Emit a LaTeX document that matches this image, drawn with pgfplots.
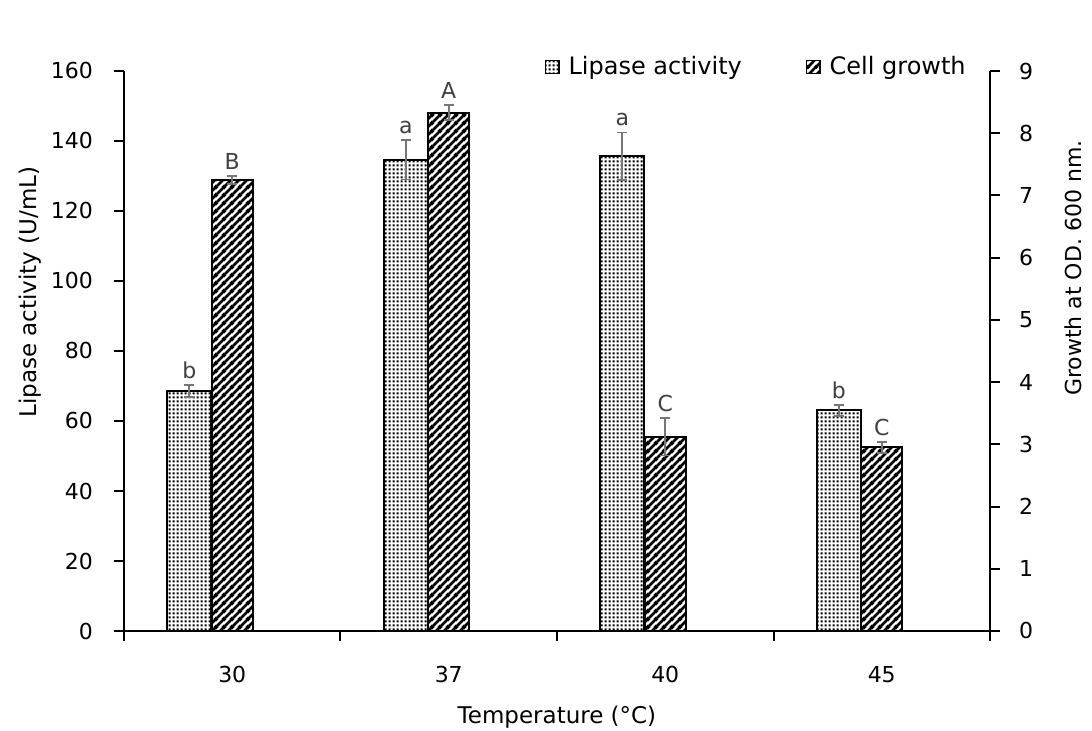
\documentclass[border=0pt]{standalone}
\usepackage{fontspec}
\setmainfont{DejaVu Sans}
\usepackage{pgfplots}
\usepackage{pgfplotstable}
\pgfplotsset{compat=1.18}
\usetikzlibrary{patterns.meta}

\tikzdeclarepattern{
  name=mydots,
  bounding box={(0pt,0pt) and (2pt,2pt)},
  tile size={(2pt,2pt)},
  code={\fill (0.4pt,0.4pt) rectangle (1.6pt,1.6pt);}
}
\tikzdeclarepattern{
  name=myhatch,
  bounding box={(0pt,0pt) and (4pt,4pt)},
  tile size={(4pt,4pt)},
  code={
    \draw[line width=1.4pt] (-1pt,-1pt) -- (5pt,5pt);
    \draw[line width=1.4pt] (-3pt,1pt) -- (3pt,7pt);
    \draw[line width=1.4pt] (1pt,-3pt) -- (7pt,3pt);
  }
}

\definecolor{errgray}{RGB}{118,118,118}
\definecolor{lblgray}{RGB}{64,64,64}

\pgfplotstableread{
x y e lab
0 68.5 1.7 b
1 134.6 5.6 a
2 135.6 6.8 a
3 63.0 1.5 b
}\lipase

\pgfplotstableread{
x y e lab
0 7.25 0.06 B
1 8.33 0.12 A
2 3.12 0.30 C
3 2.95 0.09 C
}\growth

\pgfplotsset{
  common/.style={
    scale only axis, width=433pt, height=280pt,
    xmin=-0.5, xmax=3.5,
    tick align=outside,
    major tick length=5pt,
    axis line style={line width=1pt},
    tick style={line width=1pt, black},
    ticklabel style={font=\fontsize{11}{13}\selectfont},
    /pgf/number format/assume math mode=true,
    clip=false,
  },
  errs/.style={
    error bars/.cd, y dir=both, y explicit,
    error bar style={draw=errgray, line width=0.9pt},
    error mark options={rotate=90, mark size=2.6pt, draw=errgray, line width=0.9pt},
    /pgfplots/.cd,
  },
  lbls/.style={
    only marks, mark=*, mark size=0pt, draw=none, fill=none,
    nodes near coords, point meta=explicit symbolic,
    nodes near coords style={anchor=south, text=lblgray, inner sep=3pt,
      font=\fontsize{11}{13}\selectfont},
  },
}

\begin{document}
\begin{tikzpicture}
\path[use as bounding box] (-62pt,-50pt) rectangle (484pt,315.5pt);

\begin{axis}[
  common,
  ymin=0, ymax=160,
  axis x line*=bottom, axis y line*=left,
  ytick={0,20,...,160},
  xtick={-0.5,0.5,1.5,2.5,3.5},
  xticklabels={30,37,40,45},
  x tick label as interval,
  xticklabel style={yshift=-9pt},
  yticklabel style={xshift=-7pt},
  every axis y label/.style={at={(axis description cs:-0.1085,0.605)}, rotate=90, anchor=center},
  ylabel={Lipase activity (U/mL)},
  every axis x label/.style={at={(axis description cs:0.5,-0.1536)}, anchor=center},
  xlabel={Temperature (°C)},
  label style={font=\fontsize{11.5}{13}\selectfont},
]
\addplot[ybar, bar width=22pt, bar shift=-21.5pt, draw=black, line width=1pt,
  pattern=mydots] table[x=x, y=y] {\lipase};
\addplot[draw=none, mark=none, errs] table[x expr=\thisrow{x}-0.1986, y=y, y error=e] {\lipase};
\addplot[lbls] table[x expr=\thisrow{x}-0.1986, y expr=\thisrow{y}+\thisrow{e}, meta=lab] {\lipase};
\end{axis}

\begin{axis}[
  common,
  ymin=0, ymax=9,
  axis x line=none, axis y line*=right,
  ytick={0,1,...,9},
  yticklabel style={xshift=6pt},
  every axis y label/.style={at={(axis description cs:1.0958,0.648)}, rotate=90, anchor=center},
  ylabel={Growth at OD. 600 nm.},
  label style={font=\fontsize{11}{13}\selectfont},
  legend columns=2,
  legend style={draw=none, fill=none, at={(0.977,1.007)}, anchor=east,
    inner sep=0pt, font=\fontsize{12}{14}\selectfont,
    /tikz/every even column/.append style={column sep=30pt}},
  legend image code/.code={\draw[#1] (0pt,-3.4pt) rectangle (6.8pt,3.4pt); \path (9.3pt,0pt);},
]
\addlegendimage{draw=black, line width=0.6pt, pattern=mydots}
\addlegendentry{Lipase activity}
\addplot[ybar, bar width=20.5pt, bar shift=0pt, draw=black, line width=1pt,
  pattern=myhatch, forget plot] table[x=x, y=y] {\growth};
\addlegendimage{draw=black, line width=0.6pt, pattern=myhatch}
\addlegendentry{Cell growth}
\addplot[draw=none, mark=none, errs, forget plot] table[x=x, y=y, y error=e] {\growth};
\addplot[lbls, forget plot] table[x=x, y expr=\thisrow{y}+\thisrow{e}, meta=lab] {\growth};
\end{axis}
\end{tikzpicture}
\end{document}
